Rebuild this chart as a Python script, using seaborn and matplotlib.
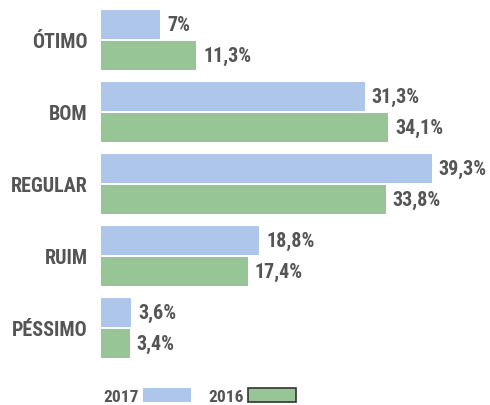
import matplotlib
matplotlib.use("Agg")
import matplotlib.pyplot as plt
from matplotlib.patches import Patch
import seaborn as sns
import pandas as pd

categorias = ["ÓTIMO", "BOM", "REGULAR", "RUIM", "PÉSSIMO"]
anos = ["2017", "2016"]
valores_2017 = [7.0, 31.3, 39.3, 18.8, 3.6]
valores_2016 = [11.3, 34.1, 33.8, 17.4, 3.4]

cores = {"2017": "#adc6ea", "2016": "#98c596"}
texto = "#555555"

df = pd.DataFrame({
    "categoria": categorias * 2,
    "ano": ["2017"] * 5 + ["2016"] * 5,
    "valor": valores_2017 + valores_2016,
})

sns.set_style("white")
plt.rcParams["font.family"] = ["Roboto Condensed", "DejaVu Sans"]
plt.rcParams["font.weight"] = "bold"

fig = plt.figure(figsize=(4.9, 4.06), dpi=100)
ax = fig.add_axes([101 / 490, 41 / 406, 1 - 101 / 490, 360 / 406])

sns.barplot(data=df, y="categoria", x="valor", hue="ano", hue_order=anos,
            order=categorias, palette=cores, width=0.84, gap=0.04,
            orient="h", ax=ax, legend=False, saturation=1, linewidth=0)

for cont in ax.containers:
    ax.bar_label(cont, labels=[f"{v:g}%".replace(".", ",") for v in cont.datavalues],
                 padding=5, fontsize=14.5, fontweight="bold", color=texto)

ax.set_xlim(0, (490 - 101) / 8.42)
ax.set_ylim(4.5, -0.5)
ax.set_xlabel("")
ax.set_ylabel("")
ax.set_xticks([])
ax.tick_params(axis="y", length=0, pad=9.5, labelsize=14.5, labelcolor=texto)
for lab in ax.get_yticklabels():
    lab.set_fontweight("bold")
sns.despine(ax=ax, left=True, bottom=True)

handles = [Patch(facecolor=cores["2017"], edgecolor="none", label="2017"),
           Patch(facecolor=cores["2016"], edgecolor="#333333", linewidth=1.2, label="2016")]
leg = fig.legend(handles=handles, loc="center left", bbox_to_anchor=(103 / 490, 1 - 397 / 406),
                 ncol=2, frameon=False, markerfirst=False, fontsize=12.5,
                 handlelength=2.76, handleheight=0.92, handletextpad=0.25,
                 columnspacing=1.0, borderaxespad=0, borderpad=0)
for t in leg.get_texts():
    t.set_color(texto)
    t.set_fontweight("bold")

fig.savefig("out.png", dpi=100)
